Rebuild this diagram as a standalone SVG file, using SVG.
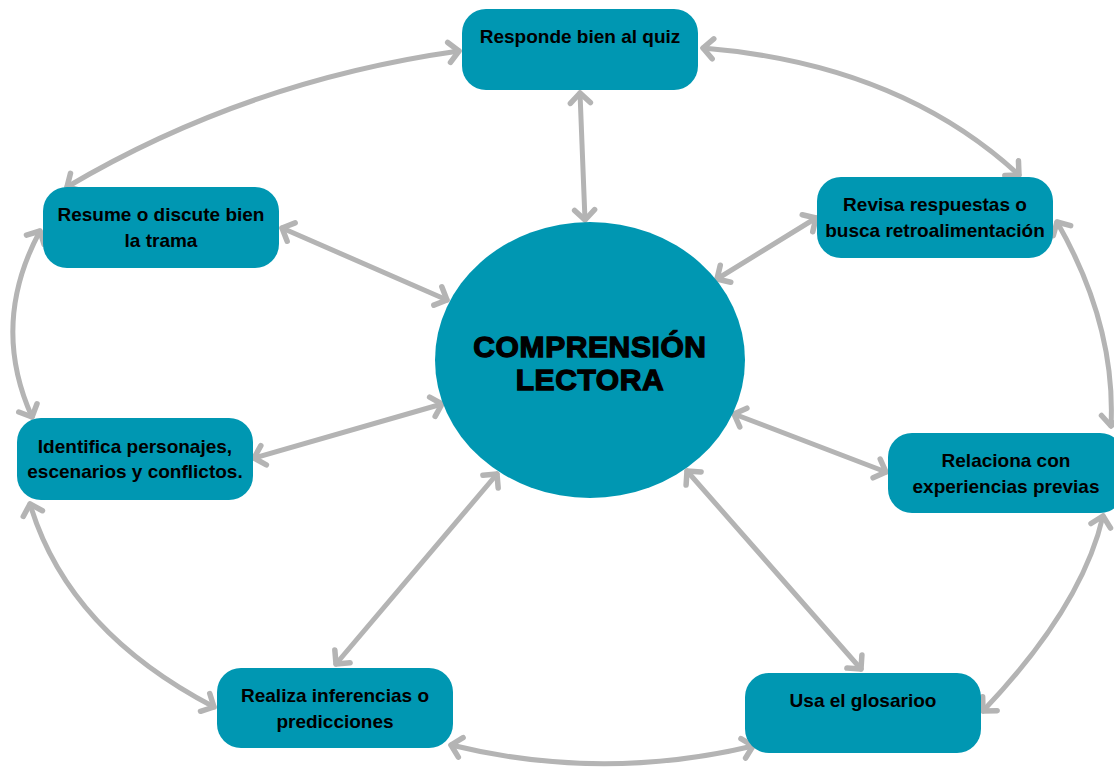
<svg xmlns="http://www.w3.org/2000/svg" width="1114" height="767" viewBox="0 0 1114 767">
<style>
.box{fill:#0097b2}
.t{font-family:"Liberation Sans",Arial,sans-serif;font-weight:bold;font-size:19px;fill:#000;text-anchor:middle}
.title{font-family:"Liberation Sans",Arial,sans-serif;font-weight:bold;font-size:30px;letter-spacing:0.6px;fill:#000;stroke:#000;stroke-width:1.3px;text-anchor:middle}
.c{fill:none;stroke:#b4b4b4;stroke-width:5;stroke-linecap:round;marker-start:url(#ah);marker-end:url(#ah)}
</style>
<defs>
<marker id="ah" markerUnits="userSpaceOnUse" viewBox="-14 -13 18 26" refX="0" refY="0" markerWidth="18" markerHeight="26" orient="auto-start-reverse" overflow="visible">
<path d="M-10,-10 L0,0 L-10,10" fill="none" stroke="#b4b4b4" stroke-width="5.5" stroke-linecap="round" stroke-linejoin="round"/>
</marker>
</defs>
<rect width="1114" height="767" fill="#fff"/>
<g id="connectors">
<path class="c" d="M67,187 Q246,81 459,51"/>
<path class="c" d="M703,48 Q899,64 1019,175"/>
<path class="c" d="M1057,222 Q1116,325 1111,426"/>
<path class="c" d="M1103,516 Q1082,607 983,711"/>
<path class="c" d="M753,746 Q602,782 451,745"/>
<path class="c" d="M214,707 Q68,631 30,504"/>
<path class="c" d="M32,417 Q-10,324 40,231"/>
<path class="c" d="M580,93 L585,220"/>
<path class="c" d="M282,228 L447,300"/>
<path class="c" d="M816,218 L717,279"/>
<path class="c" d="M254,458 L442,404"/>
<path class="c" d="M734,414 L886,472"/>
<path class="c" d="M336,664 L497,474"/>
<path class="c" d="M687,471 L861,669"/>
</g>
<g id="center">
<ellipse cx="590" cy="360" rx="155" ry="138" class="box"/>
<text class="title" x="590" y="357">COMPRENSIÓN</text>
<text class="title" x="590" y="390">LECTORA</text>
</g>
<g id="n-responde">
<rect x="462" y="9" width="236" height="81" rx="24" class="box"/>
<text class="t" x="580" y="43">Responde bien al quiz</text>
</g>
<g id="n-resume">
<rect x="43" y="187" width="236" height="81" rx="24" class="box"/>
<text class="t" x="161" y="221">Resume o discute bien</text>
<text class="t" x="161" y="247">la trama</text>
</g>
<g id="n-revisa">
<rect x="817" y="177" width="236" height="81" rx="24" class="box"/>
<text class="t" x="935" y="211">Revisa respuestas o</text>
<text class="t" x="935" y="237">busca retroalimentación</text>
</g>
<g id="n-identifica">
<rect x="17" y="418" width="236" height="82" rx="24" class="box"/>
<text class="t" x="135" y="453">Identifica personajes,</text>
<text class="t" x="135" y="478">escenarios y conflictos.</text>
</g>
<g id="n-relaciona">
<rect x="888" y="433" width="236" height="80" rx="24" class="box"/>
<text class="t" x="1006" y="467">Relaciona con</text>
<text class="t" x="1006" y="493">experiencias previas</text>
</g>
<g id="n-realiza">
<rect x="217" y="668" width="236" height="80" rx="24" class="box"/>
<text class="t" x="335" y="702">Realiza inferencias o</text>
<text class="t" x="335" y="728">predicciones</text>
</g>
<g id="n-usa">
<rect x="745" y="673" width="236" height="80" rx="24" class="box"/>
<text class="t" x="863" y="707">Usa el glosarioo</text>
</g>
</svg>
